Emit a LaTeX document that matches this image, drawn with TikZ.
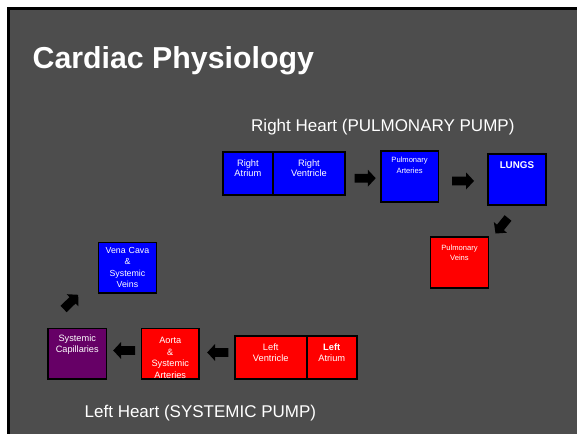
\documentclass[tikz,border=0pt]{standalone}
\usepackage{fontspec}
\setmainfont{Liberation Sans}
\usetikzlibrary{calc}

\definecolor{slidegray}{HTML}{4D4D4D}
\definecolor{pumpblue}{HTML}{0000FF}
\definecolor{pumpred}{HTML}{FF0000}
\definecolor{capillary}{HTML}{660066}

\tikzset{
  chamber/.style={draw=black, line width=1.5pt, inner sep=0pt, align=center,
    text=white, anchor=north west},
  bluebox/.style={chamber, fill=pumpblue},
  redbox/.style={chamber, fill=pumpred},
  purplebox/.style={chamber, fill=capillary},
  % filled block arrow from the start point (tail) to the target (tip)
  blockarrow/.style={fill=black, to path={
    let \p1=(\tikztostart), \p2=(\tikztotarget),
        \n1={atan2(\y2-\y1,\x2-\x1)},
        \n2={veclen(\x2-\x1,\y2-\y1)-7.8pt}
    in ($(\p1)+(\n1+90:4.4pt)$)
       -- ($(\p1)+(\n1:\n2)+(\n1+90:4.4pt)$)
       -- ($(\p1)+(\n1:\n2)+(\n1+90:8.4pt)$)
       -- (\p2)
       -- ($(\p1)+(\n1:\n2)+(\n1-90:8.4pt)$)
       -- ($(\p1)+(\n1:\n2)+(\n1-90:4.4pt)$)
       -- ($(\p1)+(\n1-90:4.4pt)$) -- cycle}},
  heading/.style={text=white, inner sep=0pt, anchor=base west}
}

\begin{document}
\begin{tikzpicture}[x=1pt,y=-1pt]
\useasboundingbox (0,0) rectangle (577,434);
% slide background with its frame
\fill[white] (0,0) rectangle (577,434);
\fill[black] (7,7) rectangle (577,434);
\fill[slidegray] (10,10) rectangle (577,434);

% headings
\node[heading, font=\fontsize{30.3}{35}\selectfont\bfseries] (title) at (32.5,68.3) {Cardiac Physiology};
\node[heading, font=\fontsize{17}{20}\selectfont] (rhead) at (251,131) {Right Heart (PULMONARY PUMP)};
\node[heading, font=\fontsize{17}{20}\selectfont] (lhead) at (84.5,417) {Left Heart (SYSTEMIC PUMP)};

% right heart and pulmonary circuit
\node[bluebox, text width=50.3pt, text height=14.3pt, text depth=29pt,
      font=\fontsize{9.3}{10.7}\selectfont] (ra) at (222,151) {Right\\Atrium};
\node[bluebox, text width=72.3pt, text height=14.3pt, text depth=29pt,
      font=\fontsize{9.3}{10.7}\selectfont] (rv) at (272,151) {Right\\Ventricle};
\node[bluebox, text width=57.7pt, text height=11.9pt, text depth=38.8pt,
      font=\fontsize{7.6}{10.7}\selectfont] (pa) at (380,150.3) {Pulmonary\\Arteries};
\node[bluebox, text width=57.7pt, text height=14.3pt, text depth=36.7pt,
      font=\fontsize{9.8}{11}\selectfont\bfseries] (lungs) at (487.3,153.3) {LUNGS};
\node[redbox, text width=58pt, text height=13.3pt, text depth=37.7pt,
      font=\fontsize{7.6}{10.6}\selectfont] (pv) at (429.7,236.3) {Pulmonary\\Veins};

% left heart and systemic circuit
\node[redbox, text width=50pt, text height=15.2pt, text depth=28.1pt,
      font=\fontsize{9.3}{11}\selectfont] (la) at (306,335) {\textbf{Left}\\Atrium};
\node[redbox, text width=72pt, text height=15.2pt, text depth=28.1pt,
      font=\fontsize{9.3}{11}\selectfont] (lv) at (234,335) {Left\\Ventricle};
\node[redbox, text width=57.6pt, text height=15pt, text depth=35.6pt,
      font=\fontsize{9.2}{11.7}\selectfont] (ao) at (140.7,327.7) {Aorta\\\&\\Systemic\\Arteries};
\node[purplebox, text width=58.4pt, text height=13.5pt, text depth=37.1pt,
      font=\fontsize{9.2}{10.2}\selectfont] (sc) at (47.3,327.7) {Systemic\\Capillaries};
\node[bluebox, text width=58pt, text height=11pt, text depth=39.6pt,
      font=\fontsize{8.8}{11.5}\selectfont] (vc) at (97.7,241.7) {Vena Cava\\\&\\Systemic\\Veins};

% flow arrows
\path[blockarrow] ($(rv.east)+(8.7,4.8)$) to ($(pa.west)+(-4.3,1.8)$);
\path[blockarrow] ($(pa.east)+(13,4.5)$) to ($(lungs.west)+(-13.3,1.4)$);
\path[blockarrow] ($(lungs.south)+(-8.85,12.2)$) to ($(pv.north east)+(6.3,-2.8)$);
\path[blockarrow] ($(lv.west)+(-5.7,-4.95)$) to ($(ao.east)+(7.4,-1.3)$);
\path[blockarrow] ($(ao.west)+(-5.7,-3.3)$) to ($(sc.east)+(6,-3.3)$);
\path[blockarrow] ($(sc.north)+(-13.7,-18.7)$) to ($(vc.south west)+(-19.5,1)$);
\end{tikzpicture}
\end{document}
